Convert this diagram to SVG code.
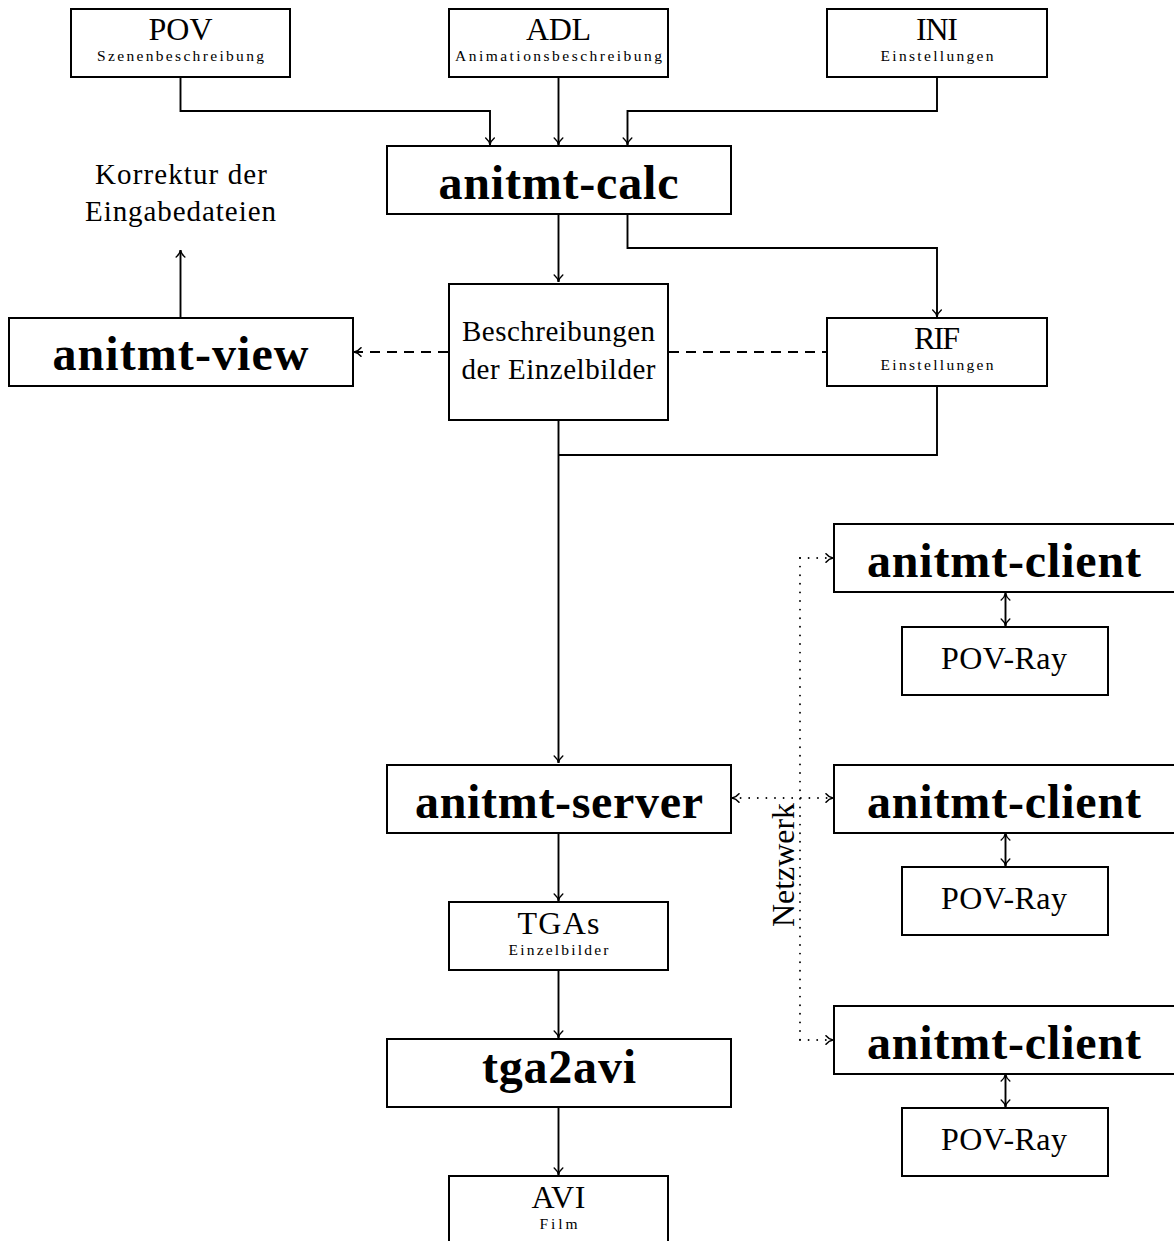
<svg xmlns="http://www.w3.org/2000/svg" width="1174" height="1241" viewBox="0 0 1174 1241">
<style>
.box{fill:#fff;stroke:#000;stroke-width:2}
.ln{fill:none;stroke:#000;stroke-width:1.9}
.dash{stroke-dasharray:10 7}
.dot{stroke-dasharray:0 8.6;stroke-linecap:round;stroke-width:1.9}
.big{font-family:"Liberation Serif",serif;font-weight:bold;font-size:48px;text-anchor:middle}
.rg{font-family:"Liberation Serif",serif;font-size:32px;text-anchor:middle}
.md{font-family:"Liberation Serif",serif;font-size:29px;text-anchor:middle}
.sm{font-family:"Liberation Serif",serif;font-size:15.5px;text-anchor:middle}
</style>
<defs>
<marker id="ar" markerUnits="userSpaceOnUse" viewBox="-9 -6 11 12" refX="0" refY="0" markerWidth="11" markerHeight="12" orient="auto-start-reverse">
<path d="M-7,-4.3 C-4.8,-1.6 -1.8,-0.3 0,0 C-1.8,0.3 -4.8,1.6 -7,4.3" fill="none" stroke="#000" stroke-width="1.5" stroke-linecap="round"/>
</marker>
</defs>
<g id="connectors">
<path class="ln" d="M180.5,77 V111 H490 V145" marker-end="url(#ar)"/>
<path class="ln" d="M558.5,77 V145" marker-end="url(#ar)"/>
<path class="ln" d="M937,77 V111 H627.5 V145" marker-end="url(#ar)"/>
<path class="ln" d="M558.5,214 V282" marker-end="url(#ar)"/>
<path class="ln" d="M627.5,214 V248 H937 V317" marker-end="url(#ar)"/>
<path class="ln" d="M180.5,318 V250" marker-end="url(#ar)"/>
<path class="ln dash" d="M448,352 H354" marker-end="url(#ar)"/>
<path class="ln dash" d="M669,352 H827"/>
<path class="ln" d="M558.5,420 V763" marker-end="url(#ar)"/>
<path class="ln" d="M937,386 V455 H558.5"/>
<path class="ln" d="M558.5,833 V901" marker-end="url(#ar)"/>
<path class="ln" d="M558.5,970 V1038" marker-end="url(#ar)"/>
<path class="ln" d="M558.5,1107 V1175" marker-end="url(#ar)"/>
<path class="ln" d="M1005.5,593 V626" marker-start="url(#ar)" marker-end="url(#ar)"/>
<path class="ln" d="M1005.5,833 V866" marker-start="url(#ar)" marker-end="url(#ar)"/>
<path class="ln" d="M1005.5,1074 V1107" marker-start="url(#ar)" marker-end="url(#ar)"/>
<path class="ln dot" d="M800,558 V1040"/>
<path class="ln dot" d="M800,558 H833" marker-end="url(#ar)"/>
<path class="ln dot" d="M800,1040 H833" marker-end="url(#ar)"/>
<path class="ln dot" d="M732,798 H833" marker-start="url(#ar)" marker-end="url(#ar)"/>
<text class="rg" font-size="31" textLength="124" transform="translate(794,865) rotate(-90)">Netzwerk</text>
</g>
<g id="pov"><rect class="box" x="71" y="9" width="219" height="68"/><text class="rg" x="180.5" y="40" textLength="64">POV</text><text class="sm" x="180.5" y="61" textLength="167">Szenenbeschreibung</text></g>
<g id="adl"><rect class="box" x="449" y="9" width="219" height="68"/><text class="rg" x="558.5" y="40" textLength="65">ADL</text><text class="sm" x="558.5" y="61" textLength="207">Animationsbeschreibung</text></g>
<g id="ini"><rect class="box" x="827" y="9" width="220" height="68"/><text class="rg" x="937" y="40" textLength="42">INI</text><text class="sm" x="937" y="61" textLength="113">Einstellungen</text></g>
<g id="calc"><rect class="box" x="387" y="146" width="344" height="68"/><text class="big" x="558.5" y="199" textLength="240">anitmt-calc</text></g>
<g id="korrektur"><text class="md" x="181" y="184" textLength="172">Korrektur der</text><text class="md" x="180.5" y="221" textLength="191">Eingabedateien</text></g>
<g id="view"><rect class="box" x="9" y="318" width="344" height="68"/><text class="big" x="180.5" y="370" textLength="256">anitmt-view</text></g>
<g id="beschreibungen"><rect class="box" x="449" y="284" width="219" height="136"/><text class="md" x="558.5" y="341" textLength="193">Beschreibungen</text><text class="md" x="558.5" y="379" textLength="194">der Einzelbilder</text></g>
<g id="rif"><rect class="box" x="827" y="318" width="220" height="68"/><text class="rg" x="937" y="349" textLength="46">RIF</text><text class="sm" x="937" y="370" textLength="113">Einstellungen</text></g>
<g id="server"><rect class="box" x="387" y="765" width="344" height="68"/><text class="big" x="559" y="818" textLength="288">anitmt-server</text></g>
<g id="tgas"><rect class="box" x="449" y="902" width="219" height="68"/><text class="rg" x="558.5" y="934" textLength="82">TGAs</text><text class="sm" x="558.5" y="955" textLength="100">Einzelbilder</text></g>
<g id="tga2avi"><rect class="box" x="387" y="1039" width="344" height="68"/><text class="big" x="559" y="1083" textLength="154">tga2avi</text></g>
<g id="avi"><rect class="box" x="449" y="1176" width="219" height="80"/><text class="rg" x="558.5" y="1208" textLength="54">AVI</text><text class="sm" x="558.5" y="1229" textLength="38">Film</text></g>
<g id="client1"><rect class="box" x="834" y="524" width="344" height="68"/><text class="big" x="1004" y="577" textLength="274">anitmt-client</text></g>
<g id="povray1"><rect class="box" x="902" y="627" width="206" height="68"/><text class="rg" x="1004" y="669" textLength="126">POV-Ray</text></g>
<g id="client2"><rect class="box" x="834" y="765" width="344" height="68"/><text class="big" x="1004" y="818" textLength="274">anitmt-client</text></g>
<g id="povray2"><rect class="box" x="902" y="867" width="206" height="68"/><text class="rg" x="1004" y="909" textLength="126">POV-Ray</text></g>
<g id="client3"><rect class="box" x="834" y="1006" width="344" height="68"/><text class="big" x="1004" y="1059" textLength="274">anitmt-client</text></g>
<g id="povray3"><rect class="box" x="902" y="1108" width="206" height="68"/><text class="rg" x="1004" y="1150" textLength="126">POV-Ray</text></g>
</svg>
